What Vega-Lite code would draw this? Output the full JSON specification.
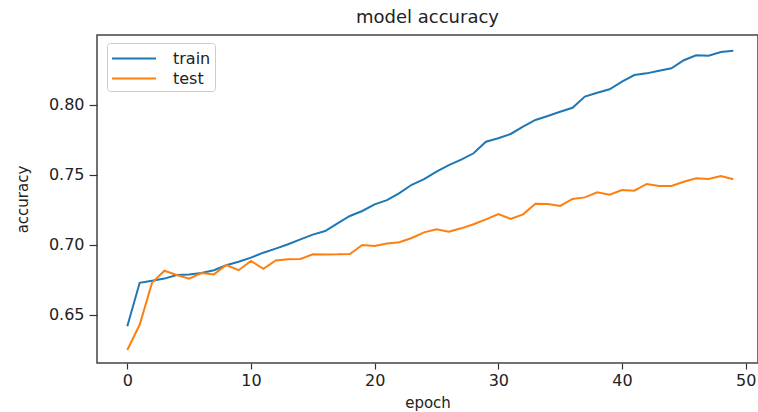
{
  "$schema": "https://vega.github.io/schema/vega-lite/v6.json",
  "width": 661,
  "height": 328,
  "autosize": {"type": "none"},
  "padding": {"left": 97, "top": 35, "right": 0, "bottom": 49},
  "background": "white",
  "title": {"text": "model accuracy", "font": "DejaVu Sans", "fontSize": 18, "fontWeight": "normal", "color": "#222", "offset": 8},
  "config": {
    "view": {"stroke": "#444", "strokeWidth": 1.5},
    "font": "DejaVu Sans"
  },
  "data": {"values": [
    {"epoch":0,"acc":0.642,"series":"train"},{"epoch":1,"acc":0.673,"series":"train"},{"epoch":2,"acc":0.6745,"series":"train"},{"epoch":3,"acc":0.676,"series":"train"},{"epoch":4,"acc":0.6786,"series":"train"},{"epoch":5,"acc":0.679,"series":"train"},{"epoch":6,"acc":0.680,"series":"train"},{"epoch":7,"acc":0.682,"series":"train"},{"epoch":8,"acc":0.6855,"series":"train"},{"epoch":9,"acc":0.688,"series":"train"},
    {"epoch":10,"acc":0.691,"series":"train"},{"epoch":11,"acc":0.6945,"series":"train"},{"epoch":12,"acc":0.6974,"series":"train"},{"epoch":13,"acc":0.7005,"series":"train"},{"epoch":14,"acc":0.704,"series":"train"},{"epoch":15,"acc":0.7074,"series":"train"},{"epoch":16,"acc":0.710,"series":"train"},{"epoch":17,"acc":0.7155,"series":"train"},{"epoch":18,"acc":0.7207,"series":"train"},{"epoch":19,"acc":0.7243,"series":"train"},
    {"epoch":20,"acc":0.729,"series":"train"},{"epoch":21,"acc":0.732,"series":"train"},{"epoch":22,"acc":0.737,"series":"train"},{"epoch":23,"acc":0.743,"series":"train"},{"epoch":24,"acc":0.747,"series":"train"},{"epoch":25,"acc":0.7524,"series":"train"},{"epoch":26,"acc":0.7571,"series":"train"},{"epoch":27,"acc":0.761,"series":"train"},{"epoch":28,"acc":0.7655,"series":"train"},{"epoch":29,"acc":0.7738,"series":"train"},
    {"epoch":30,"acc":0.7762,"series":"train"},{"epoch":31,"acc":0.7793,"series":"train"},{"epoch":32,"acc":0.7845,"series":"train"},{"epoch":33,"acc":0.7893,"series":"train"},{"epoch":34,"acc":0.7921,"series":"train"},{"epoch":35,"acc":0.7952,"series":"train"},{"epoch":36,"acc":0.798,"series":"train"},{"epoch":37,"acc":0.806,"series":"train"},{"epoch":38,"acc":0.8088,"series":"train"},{"epoch":39,"acc":0.8112,"series":"train"},
    {"epoch":40,"acc":0.8167,"series":"train"},{"epoch":41,"acc":0.8214,"series":"train"},{"epoch":42,"acc":0.8226,"series":"train"},{"epoch":43,"acc":0.8245,"series":"train"},{"epoch":44,"acc":0.8262,"series":"train"},{"epoch":45,"acc":0.832,"series":"train"},{"epoch":46,"acc":0.8355,"series":"train"},{"epoch":47,"acc":0.8352,"series":"train"},{"epoch":48,"acc":0.8379,"series":"train"},{"epoch":49,"acc":0.8388,"series":"train"},
    {"epoch":0,"acc":0.625,"series":"test"},{"epoch":1,"acc":0.643,"series":"test"},{"epoch":2,"acc":0.673,"series":"test"},{"epoch":3,"acc":0.6816,"series":"test"},{"epoch":4,"acc":0.6786,"series":"test"},{"epoch":5,"acc":0.676,"series":"test"},{"epoch":6,"acc":0.680,"series":"test"},{"epoch":7,"acc":0.679,"series":"test"},{"epoch":8,"acc":0.6857,"series":"test"},{"epoch":9,"acc":0.682,"series":"test"},
    {"epoch":10,"acc":0.6886,"series":"test"},{"epoch":11,"acc":0.683,"series":"test"},{"epoch":12,"acc":0.689,"series":"test"},{"epoch":13,"acc":0.6898,"series":"test"},{"epoch":14,"acc":0.690,"series":"test"},{"epoch":15,"acc":0.6933,"series":"test"},{"epoch":16,"acc":0.6932,"series":"test"},{"epoch":17,"acc":0.6933,"series":"test"},{"epoch":18,"acc":0.6936,"series":"test"},{"epoch":19,"acc":0.700,"series":"test"},
    {"epoch":20,"acc":0.6993,"series":"test"},{"epoch":21,"acc":0.701,"series":"test"},{"epoch":22,"acc":0.702,"series":"test"},{"epoch":23,"acc":0.705,"series":"test"},{"epoch":24,"acc":0.709,"series":"test"},{"epoch":25,"acc":0.7112,"series":"test"},{"epoch":26,"acc":0.7095,"series":"test"},{"epoch":27,"acc":0.7119,"series":"test"},{"epoch":28,"acc":0.7148,"series":"test"},{"epoch":29,"acc":0.7183,"series":"test"},
    {"epoch":30,"acc":0.7221,"series":"test"},{"epoch":31,"acc":0.7186,"series":"test"},{"epoch":32,"acc":0.7219,"series":"test"},{"epoch":33,"acc":0.7295,"series":"test"},{"epoch":34,"acc":0.7293,"series":"test"},{"epoch":35,"acc":0.7279,"series":"test"},{"epoch":36,"acc":0.7329,"series":"test"},{"epoch":37,"acc":0.734,"series":"test"},{"epoch":38,"acc":0.7376,"series":"test"},{"epoch":39,"acc":0.7359,"series":"test"},
    {"epoch":40,"acc":0.7393,"series":"test"},{"epoch":41,"acc":0.7388,"series":"test"},{"epoch":42,"acc":0.7436,"series":"test"},{"epoch":43,"acc":0.7421,"series":"test"},{"epoch":44,"acc":0.7421,"series":"test"},{"epoch":45,"acc":0.7452,"series":"test"},{"epoch":46,"acc":0.7476,"series":"test"},{"epoch":47,"acc":0.7471,"series":"test"},{"epoch":48,"acc":0.7493,"series":"test"},{"epoch":49,"acc":0.747,"series":"test"}
  ]},
  "mark": {"type": "line", "strokeWidth": 2, "clip": true},
  "encoding": {
    "x": {
      "field": "epoch", "type": "quantitative",
      "scale": {"domain": [-2.45, 51.0], "nice": false, "zero": false},
      "axis": {"values": [0, 10, 20, 30, 40, 50], "title": "epoch", "grid": false, "domain": false,
               "tickColor": "#333", "tickSize": 6, "tickWidth": 1.2, "labelFontSize": 16, "labelColor": "#222",
               "labelPadding": 3, "titleFontSize": 15, "titleFontWeight": "normal", "titleColor": "#222", "titlePadding": 7}
    },
    "y": {
      "field": "acc", "type": "quantitative",
      "scale": {"domain": [0.6157, 0.85], "nice": false, "zero": false},
      "axis": {"values": [0.65, 0.70, 0.75, 0.80], "format": ".2f", "title": "accuracy", "grid": false, "domain": false,
               "tickColor": "#333", "tickSize": 8, "tickWidth": 1.2, "labelFontSize": 16, "labelColor": "#222",
               "labelPadding": 5, "titleFontSize": 15, "titleFontWeight": "normal", "titleColor": "#222", "titlePadding": 18}
    },
    "color": {
      "field": "series", "type": "nominal",
      "scale": {"domain": ["train", "test"], "range": ["#1f77b4", "#ff7f0e"]},
      "legend": {
        "title": null, "orient": "none", "legendX": 10, "legendY": 8,
        "symbolType": "M-1,0L3.2,0", "symbolSize": 441, "symbolStrokeWidth": 2,
        "labelFontSize": 16, "labelColor": "#222", "labelOffset": 39,
        "rowPadding": 0, "padding": 4, "strokeColor": "#ccc", "fillColor": "white", "cornerRadius": 3
      }
    }
  }
}
